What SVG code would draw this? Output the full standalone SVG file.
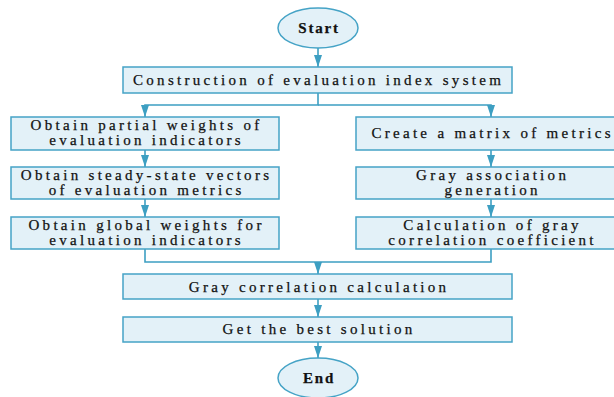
<svg xmlns="http://www.w3.org/2000/svg" width="614" height="397" viewBox="0 0 614 397">
<defs>
<style>
.box{fill:#e3f1f8;stroke:#45a3c6;stroke-width:1.5}
.t{font-family:'Liberation Serif','Times New Roman','DejaVu Serif',serif;font-size:15px;letter-spacing:3.3px;fill:#111;stroke:#111;stroke-width:0.25;text-anchor:middle}
.b{font-weight:bold;letter-spacing:1.8px}
.c{fill:none;stroke:#3d9fc2;stroke-width:1.6}
</style>
<marker id="ah" viewBox="0 0 12 8" refX="12" refY="4" markerWidth="12" markerHeight="8" markerUnits="userSpaceOnUse" orient="auto">
<path d="M0,0 L12,4 L0,8 Z" fill="#3d9fc2"/>
</marker>
</defs>
<rect width="614" height="397" fill="#fff"/>
<g id="connectors">
<path class="c" d="M318,48 V67" marker-end="url(#ah)"/>
<path class="c" d="M318,93 V105 H145 V117" marker-end="url(#ah)"/>
<path class="c" d="M318,105 H491 V117" marker-end="url(#ah)"/>
<path class="c" d="M145,150 V167" marker-end="url(#ah)"/>
<path class="c" d="M145,199 V217" marker-end="url(#ah)"/>
<path class="c" d="M491,150 V167" marker-end="url(#ah)"/>
<path class="c" d="M491,199 V217" marker-end="url(#ah)"/>
<path class="c" d="M145,249 V262 H491 V249"/>
<path class="c" d="M318,262 V274" marker-end="url(#ah)"/>
<path class="c" d="M318,299 V317" marker-end="url(#ah)"/>
<path class="c" d="M318,342 V358" marker-end="url(#ah)"/>
</g>
<g id="start">
<ellipse class="box" cx="318" cy="28" rx="40" ry="20"/>
<text class="t b" x="319" y="33">Start</text>
</g>
<g id="construction">
<rect class="box" x="123" y="67" width="389" height="26"/>
<text class="t" x="318.6" y="84.5">Construction of evaluation index system</text>
</g>
<g id="partial">
<rect class="box" x="11" y="117" width="268" height="33"/>
<text class="t" x="146.6" y="130">Obtain partial weights of</text>
<text class="t" x="146.6" y="145">evaluation indicators</text>
</g>
<g id="steady">
<rect class="box" x="11" y="167" width="268" height="32"/>
<text class="t" x="146.6" y="179.5">Obtain steady-state vectors</text>
<text class="t" x="146.6" y="194.5">of evaluation metrics</text>
</g>
<g id="global">
<rect class="box" x="11" y="217" width="268" height="32"/>
<text class="t" x="146.6" y="229.5">Obtain global weights for</text>
<text class="t" x="146.6" y="244.5">evaluation indicators</text>
</g>
<g id="matrix">
<rect class="box" x="356" y="117" width="270" height="33"/>
<text class="t" x="492.6" y="138">Create a matrix of metrics</text>
</g>
<g id="generation">
<rect class="box" x="356" y="167" width="270" height="32"/>
<text class="t" x="492.6" y="179.5">Gray association</text>
<text class="t" x="492.6" y="194.5">generation</text>
</g>
<g id="coefficient">
<rect class="box" x="356" y="217" width="270" height="32"/>
<text class="t" x="492.6" y="229.5">Calculation of gray</text>
<text class="t" x="492.6" y="244.5">correlation coefficient</text>
</g>
<g id="gray-calc">
<rect class="box" x="123" y="274" width="389" height="25"/>
<text class="t" x="319.1" y="291.5">Gray correlation calculation</text>
</g>
<g id="best">
<rect class="box" x="123" y="317" width="389" height="25"/>
<text class="t" x="319.1" y="334">Get the best solution</text>
</g>
<g id="end">
<ellipse class="box" cx="318" cy="378" rx="40" ry="20"/>
<text class="t b" x="319" y="383">End</text>
</g>
</svg>
